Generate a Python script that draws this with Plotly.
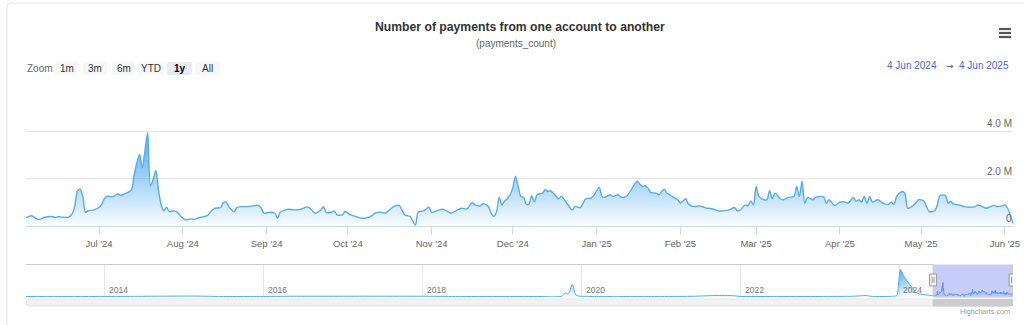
import plotly.graph_objects as go

W, H = 1024, 325

# ---------------- data ----------------
main_dates = [
    "2024-06-04", "2024-06-06", "2024-06-08", "2024-06-09", "2024-06-11", "2024-06-13", "2024-06-14",
    "2024-06-15", "2024-06-16", "2024-06-19", "2024-06-20", "2024-06-21", "2024-06-22", "2024-06-23",
    "2024-06-24", "2024-06-25", "2024-06-26", "2024-06-27", "2024-06-29", "2024-07-01", "2024-07-02",
    "2024-07-03", "2024-07-04", "2024-07-06", "2024-07-08", "2024-07-09", "2024-07-11", "2024-07-13",
    "2024-07-14", "2024-07-16", "2024-07-17", "2024-07-18", "2024-07-19", "2024-07-20", "2024-07-21",
    "2024-07-22", "2024-07-23", "2024-07-24", "2024-07-25", "2024-07-26", "2024-07-27", "2024-07-29",
    "2024-07-30", "2024-07-31", "2024-08-02", "2024-08-04", "2024-08-05", "2024-08-07", "2024-08-10",
    "2024-08-12", "2024-08-13", "2024-08-15", "2024-08-16", "2024-08-17", "2024-08-18", "2024-08-20",
    "2024-08-21", "2024-08-23", "2024-08-25", "2024-08-27", "2024-08-29", "2024-08-30", "2024-08-31",
    "2024-09-02", "2024-09-04", "2024-09-05", "2024-09-06", "2024-09-08", "2024-09-09", "2024-09-11",
    "2024-09-14", "2024-09-16", "2024-09-17", "2024-09-19", "2024-09-21", "2024-09-22", "2024-09-23",
    "2024-09-25", "2024-09-26", "2024-09-27", "2024-09-29", "2024-09-30", "2024-10-02", "2024-10-04",
    "2024-10-06", "2024-10-08", "2024-10-10", "2024-10-11", "2024-10-13", "2024-10-15", "2024-10-16",
    "2024-10-18", "2024-10-20", "2024-10-21", "2024-10-22", "2024-10-24", "2024-10-26", "2024-10-27",
    "2024-10-29", "2024-10-31", "2024-11-01", "2024-11-03", "2024-11-05", "2024-11-07", "2024-11-08",
    "2024-11-10", "2024-11-12", "2024-11-14", "2024-11-16", "2024-11-17", "2024-11-19", "2024-11-20",
    "2024-11-22", "2024-11-23", "2024-11-24", "2024-11-25", "2024-11-26", "2024-11-27", "2024-11-28",
    "2024-11-29", "2024-11-30", "2024-12-01", "2024-12-02", "2024-12-03", "2024-12-04", "2024-12-05",
    "2024-12-06", "2024-12-07", "2024-12-08", "2024-12-09", "2024-12-10", "2024-12-12", "2024-12-13",
    "2024-12-14", "2024-12-15", "2024-12-16", "2024-12-18", "2024-12-19", "2024-12-21", "2024-12-23",
    "2024-12-24", "2024-12-26", "2024-12-27", "2024-12-28", "2024-12-30", "2024-12-31", "2025-01-02",
    "2025-01-03", "2025-01-04", "2025-01-06", "2025-01-07", "2025-01-09", "2025-01-10", "2025-01-12",
    "2025-01-14", "2025-01-16", "2025-01-17", "2025-01-18", "2025-01-19", "2025-01-20", "2025-01-21",
    "2025-01-23", "2025-01-24", "2025-01-26", "2025-01-27", "2025-01-29", "2025-01-31", "2025-02-01",
    "2025-02-03", "2025-02-04", "2025-02-06", "2025-02-08", "2025-02-10", "2025-02-11", "2025-02-13",
    "2025-02-15", "2025-02-17", "2025-02-19", "2025-02-21", "2025-02-22", "2025-02-23", "2025-02-25",
    "2025-02-26", "2025-02-27", "2025-02-28", "2025-03-01", "2025-03-02", "2025-03-04", "2025-03-05",
    "2025-03-06", "2025-03-07", "2025-03-08", "2025-03-10", "2025-03-11", "2025-03-13", "2025-03-15",
    "2025-03-16", "2025-03-17", "2025-03-18", "2025-03-19", "2025-03-20", "2025-03-22", "2025-03-23",
    "2025-03-25", "2025-03-26", "2025-03-27", "2025-03-28", "2025-03-30", "2025-04-01", "2025-04-03",
    "2025-04-04", "2025-04-06", "2025-04-07", "2025-04-08", "2025-04-09", "2025-04-10", "2025-04-11",
    "2025-04-12", "2025-04-13", "2025-04-15", "2025-04-17", "2025-04-19", "2025-04-20", "2025-04-21",
    "2025-04-22", "2025-04-24", "2025-04-25", "2025-04-26", "2025-04-27", "2025-04-29", "2025-04-30",
    "2025-05-02", "2025-05-03", "2025-05-04", "2025-05-06", "2025-05-07", "2025-05-08", "2025-05-10",
    "2025-05-11", "2025-05-12", "2025-05-13", "2025-05-15", "2025-05-17", "2025-05-19", "2025-05-21",
    "2025-05-22", "2025-05-23", "2025-05-25", "2025-05-26", "2025-05-28", "2025-05-29", "2025-05-31",
    "2025-06-01", "2025-06-02", "2025-06-03", "2025-06-04",
]
# payments_count, in millions
main_values = [
    0.35, 0.43, 0.30, 0.28, 0.37, 0.40, 0.39,
    0.36, 0.39, 0.36, 0.39, 0.50, 0.82, 1.46,
    1.56, 1.25, 0.58, 0.64, 0.68, 0.78, 0.92,
    1.15, 1.26, 1.23, 1.36, 1.29, 1.39, 1.53,
    2.17, 3.02, 2.45, 3.20, 3.94, 1.70, 1.96,
    2.35, 1.50, 0.89, 0.64, 0.79, 0.61, 0.64,
    0.58, 0.44, 0.26, 0.30, 0.28, 0.35, 0.44,
    0.68, 0.75, 0.78, 0.99, 1.01, 0.82, 0.61,
    0.78, 0.82, 0.82, 0.85, 0.87, 0.75, 0.54,
    0.58, 0.54, 0.33, 0.58, 0.68, 0.71, 0.68,
    0.72, 0.81, 0.75, 0.54, 0.68, 0.82, 0.58,
    0.58, 0.64, 0.47, 0.47, 0.61, 0.47, 0.40,
    0.33, 0.35, 0.44, 0.54, 0.58, 0.55, 0.64,
    0.82, 0.87, 0.68, 0.47, 0.40, 0.04, 0.58,
    0.64, 0.79, 0.58, 0.64, 0.71, 0.61, 0.54,
    0.64, 0.75, 0.72, 0.99, 0.89, 0.85, 0.94,
    0.82, 0.54, 0.40, 0.61, 1.21, 0.89, 1.06,
    1.15, 1.32, 1.60, 2.10, 1.67, 1.25, 1.21,
    0.92, 0.92, 1.28, 1.01, 1.32, 1.39, 1.53,
    1.46, 1.49, 1.39, 1.15, 1.25, 0.96, 0.68,
    0.82, 0.78, 0.96, 1.15, 1.18, 1.29, 1.63,
    1.25, 1.21, 1.32, 1.25, 1.32, 1.22, 1.25,
    1.57, 1.89, 1.77, 1.67, 1.70, 1.60, 1.42,
    1.39, 1.32, 1.56, 1.39, 1.25, 1.11, 0.96,
    1.15, 0.92, 0.82, 0.85, 0.78, 0.75, 0.72,
    0.64, 0.64, 0.68, 0.78, 0.64, 0.66, 0.89,
    0.85, 1.06, 0.89, 1.67, 1.25, 1.11, 1.11,
    1.49, 1.15, 1.39, 1.15, 1.11, 1.21, 1.25,
    1.67, 1.25, 1.89, 0.96, 1.21, 1.11, 1.21,
    1.25, 1.22, 0.96, 1.11, 0.87, 1.01, 1.01,
    0.96, 1.21, 1.04, 1.11, 1.01, 1.25, 0.96,
    1.25, 1.01, 1.11, 0.96, 0.92, 1.01, 0.92,
    1.25, 1.46, 1.39, 0.75, 0.78, 0.96, 1.11,
    1.06, 0.82, 0.61, 0.64, 0.89, 1.29, 1.29,
    0.96, 1.04, 0.92, 0.89, 0.82, 0.79, 0.82,
    0.89, 0.85, 0.75, 0.78, 0.87, 0.82, 0.85,
    0.89, 0.75, 0.47, 0.11,
]

# earlier history, only visible in the navigator (millions)
hist_dates = [
    "2013-01-04", "2013-06-01", "2014-01-01", "2014-06-01", "2014-12-01", "2015-03-01", "2015-06-01",
    "2016-01-01", "2016-06-01", "2017-01-01", "2017-06-01", "2018-01-01", "2018-06-01", "2019-01-01",
    "2019-06-01", "2019-10-01", "2019-10-20", "2019-11-01", "2019-11-20", "2019-12-05", "2019-12-20",
    "2020-03-01", "2020-06-01", "2021-01-01", "2021-06-01", "2021-09-01", "2021-12-01", "2022-01-01",
    "2022-06-01", "2023-01-01", "2023-06-01", "2023-08-01", "2023-09-01", "2023-12-01", "2023-12-20",
    "2024-01-05", "2024-01-20", "2024-02-05", "2024-02-20", "2024-03-01", "2024-03-10", "2024-03-25",
    "2024-04-15", "2024-05-15",
]
hist_values = [
    0.15, 0.15, 0.15, 0.18, 0.25, 0.25, 0.15,
    0.15, 0.20, 0.20, 0.22, 0.20, 0.15, 0.15,
    0.15, 0.20, 1.10, 0.80, 3.40, 0.60, 0.25,
    0.15, 0.15, 0.15, 0.20, 0.40, 0.35, 0.15,
    0.15, 0.15, 0.20, 0.40, 0.15, 0.20, 0.40,
    7.50, 5.80, 4.40, 3.20, 2.50, 1.50, 1.00,
    0.70, 0.50,
]

title_text = "Number of payments from one account to another"
subtitle_text = "(payments_count)"
button_labels = ["1m", "3m", "6m", "YTD", "1y", "All"]
active_button = "1y"
range_start, range_end = "2024-06-04", "2025-06-04"
range_text_from, range_text_to = "4 Jun 2024", "4 Jun 2025"
month_ticks = ["2024-07-01", "2024-08-01", "2024-09-01", "2024-10-01", "2024-11-01", "2024-12-01",
               "2025-01-01", "2025-02-01", "2025-03-01", "2025-04-01", "2025-05-01", "2025-06-01"]
month_labels = ["Jul '24", "Aug '24", "Sep '24", "Oct '24", "Nov '24", "Dec '24",
                "Jan '25", "Feb '25", "Mar '25", "Apr '25", "May '25", "Jun '25"]
y_tickvals = [0, 2, 4, 6]
y_ticktext = ["0", "2.0 M", "4.0 M", ""]
year_ticks = ["2014-01-01", "2016-01-01", "2018-01-01", "2020-01-01", "2022-01-01", "2024-01-01"]
year_labels = ["2014", "2016", "2018", "2020", "2022", "2024"]
nav_start, nav_end = "2013-01-04", "2025-06-06"

# ---------------- helpers (pixel -> paper) ----------------
def fx(p):
    return p / W

def fy(p):
    return 1 - p / H

def rrect(x0, y0, x1, y1, r):
    X, Y = fx, fy
    return (f"M{X(x0 + r)},{Y(y0)} L{X(x1 - r)},{Y(y0)} Q{X(x1)},{Y(y0)} {X(x1)},{Y(y0 + r)} "
            f"L{X(x1)},{Y(y1 - r)} Q{X(x1)},{Y(y1)} {X(x1 - r)},{Y(y1)} L{X(x0 + r)},{Y(y1)} "
            f"Q{X(x0)},{Y(y1)} {X(x0)},{Y(y1 - r)} L{X(x0)},{Y(y0 + r)} Q{X(x0)},{Y(y0)} {X(x0 + r)},{Y(y0)} Z")

FONT = "Liberation Sans, Arial, Helvetica, sans-serif"
PL, PR = 26, 1013          # plot left/right px
MT, MB = 84, 226           # main plot top/bottom px
NT, NB = 264.5, 297        # navigator top/bottom px
BLUE = "66,165,245"

fig = go.Figure()

fig.add_trace(go.Scatter(
    x=main_dates, y=main_values, mode="lines",
    line=dict(color="#55adf1", width=1.4, shape="spline", smoothing=0.8),
    fill="tozeroy",
    fillgradient=dict(type="vertical",
                      colorscale=[[0, f"rgba({BLUE},0.03)"], [1, f"rgba({BLUE},0.95)"]],
                      start=0, stop=max(main_values)),
    hoverinfo="skip", xaxis="x", yaxis="y", showlegend=False,
))

nav_dates = hist_dates + main_dates
nav_values = hist_values + main_values
fig.add_trace(go.Scatter(
    x=nav_dates, y=nav_values, mode="lines",
    line=dict(color="#55adf1", width=1, shape="spline", smoothing=0.6),
    fill="tozeroy",
    fillgradient=dict(type="vertical",
                      colorscale=[[0, f"rgba({BLUE},0.05)"], [1, f"rgba({BLUE},0.9)"]],
                      start=0, stop=max(nav_values)),
    hoverinfo="skip", xaxis="x2", yaxis="y2", showlegend=False,
))

shapes = []
annotations = []

# container border
shapes.append(dict(type="path", xref="paper", yref="paper", path=rrect(7, 3, 1040, 345, 4),
                   line=dict(color="#e6e6e6", width=1), fillcolor="rgba(0,0,0,0)", layer="below"))

# title / subtitle
annotations.append(dict(xref="paper", yref="paper", x=fx(520), y=fy(27), text=f"<b>{title_text}</b>",
                        showarrow=False, xanchor="center", yanchor="middle",
                        font=dict(family=FONT, size=12.2, color="#333333")))
annotations.append(dict(xref="paper", yref="paper", x=fx(516), y=fy(43), text=subtitle_text,
                        showarrow=False, xanchor="center", yanchor="middle",
                        font=dict(family=FONT, size=10, color="#666666")))

# hamburger menu
for yy in (29, 33, 37):
    shapes.append(dict(type="line", xref="paper", yref="paper", x0=fx(999), x1=fx(1011),
                       y0=fy(yy), y1=fy(yy), line=dict(color="#555555", width=2.2)))

# range selector
annotations.append(dict(xref="paper", yref="paper", x=fx(25), y=fy(68), text="Zoom", showarrow=False,
                        xanchor="left", yanchor="middle", font=dict(family=FONT, size=10, color="#666666")))
btn_px = [(55, 78), (83, 107), (112, 135), (138, 163), (167, 192), (195, 220)]
for lab, (bx0, bx1) in zip(button_labels, btn_px):
    act = lab == active_button
    shapes.append(dict(type="path", xref="paper", yref="paper", path=rrect(bx0, 62, bx1, 75, 2),
                       fillcolor="#e6ebf5" if act else "#f7f7f7", line=dict(width=0)))
    annotations.append(dict(xref="paper", yref="paper", x=fx((bx0 + bx1) / 2), y=fy(68.5),
                            text=f"<b>{lab}</b>" if act else lab, showarrow=False,
                            xanchor="center", yanchor="middle",
                            font=dict(family=FONT, size=10, color="#000000" if act else "#333333")))

# date range display
annotations.append(dict(xref="paper", yref="paper", x=fx(939), y=fy(66), text=range_text_from,
                        showarrow=False, xanchor="right", yanchor="middle",
                        font=dict(family=FONT, size=10, color="#4a66d9")))
annotations.append(dict(xref="paper", yref="paper", x=fx(949.5), y=fy(65.5), text="→",
                        showarrow=False, xanchor="center", yanchor="middle",
                        font=dict(family="DejaVu Sans", size=9, color="#555555")))
annotations.append(dict(xref="paper", yref="paper", x=fx(1011), y=fy(66), text=range_text_to,
                        showarrow=False, xanchor="right", yanchor="middle",
                        font=dict(family=FONT, size=10, color="#4a66d9")))

# y-axis labels, placed on the y scale, inside the plot at the right edge
for v, t in zip(y_tickvals, y_ticktext):
    if t:
        annotations.append(dict(xref="paper", yref="y", x=fx(PR + 1), y=v, text=t, showarrow=False,
                                xanchor="right", yanchor="bottom", yshift=0,
                                font=dict(family=FONT, size=10, color="#666666")))

# navigator: selection mask and outline
shapes.append(dict(type="rect", xref="x2", yref="paper", x0=range_start, x1=range_end,
                   y0=fy(NB), y1=fy(NT), fillcolor="rgba(70,90,235,0.3)", line=dict(width=0), layer="above"))
outline = dict(color="#cccccc", width=1)
shapes.append(dict(type="line", xref="x2", yref="paper", x0=nav_start, x1=range_start,
                   y0=fy(NT), y1=fy(NT), line=outline))
shapes.append(dict(type="line", xref="x2", yref="paper", x0=range_start, x1=range_start,
                   y0=fy(NT), y1=fy(NB), line=outline))
shapes.append(dict(type="line", xref="x2", yref="paper", x0=range_start, x1=range_end,
                   y0=fy(NB), y1=fy(NB), line=outline))
shapes.append(dict(type="line", xref="x2", yref="paper", x0=range_end, x1=range_end,
                   y0=fy(NT), y1=fy(NB), line=outline))
# handles
for hx in (range_start, range_end):
    shapes.append(dict(type="rect", xref="x2", yref="paper", xsizemode="pixel", xanchor=hx,
                       x0=-3.5, x1=3.5, y0=fy(286), y1=fy(274),
                       fillcolor="#f2f2f2", line=dict(color="#999999", width=1)))
    for dx in (-1, 1):
        shapes.append(dict(type="line", xref="x2", yref="paper", xsizemode="pixel", xanchor=hx,
                           x0=dx, x1=dx, y0=fy(283), y1=fy(277), line=dict(color="#999999", width=1)))
# year labels in navigator
for xt, lab in zip(year_ticks, year_labels):
    annotations.append(dict(xref="x2", yref="paper", x=xt, y=fy(290), text=lab, showarrow=False,
                            xanchor="left", yanchor="middle", xshift=2,
                            font=dict(family=FONT, size=8.5, color="#777777")))

# scrollbar
shapes.append(dict(type="path", xref="paper", yref="paper", path=rrect(PL, 299, PR, 306, 3.5),
                   fillcolor="#f2f2f2", line=dict(color="#e6e6e6", width=1), layer="below"))
shapes.append(dict(type="rect", xref="x2", yref="paper", x0=range_start, x1=range_end,
                   y0=fy(306), y1=fy(299.5), fillcolor="#cccccc", line=dict(color="#cccccc", width=1)))

# credits
annotations.append(dict(xref="paper", yref="paper", x=fx(1012), y=fy(311), text="Highcharts.com",
                        showarrow=False, xanchor="right", yanchor="middle",
                        font=dict(family=FONT, size=7.2, color="#999999")))

fig.update_layout(
    width=W, height=H, autosize=False,
    margin=dict(l=0, r=0, t=0, b=0, pad=0),
    paper_bgcolor="white", plot_bgcolor="rgba(0,0,0,0)",
    font=dict(family=FONT, color="#666666"),
    showlegend=False,
    xaxis=dict(domain=[fx(PL), fx(PR)], range=[range_start, range_end], type="date",
               anchor="y", showgrid=False, zeroline=False,
               showline=True, linecolor="#ccd6eb", linewidth=1,
               ticks="outside", ticklen=7, tickcolor="#ccd6eb", tickwidth=1,
               tickvals=month_ticks, ticktext=month_labels, ticklabelstandoff=2,
               ticklabeloverflow="allow",
               tickfont=dict(family=FONT, size=9.5, color="#666666"), automargin=False),
    yaxis=dict(domain=[fy(MB), fy(MT)], range=[0, 6], anchor="x", side="right",
               tickvals=y_tickvals, showticklabels=False,
               showgrid=True, gridcolor="#e6e6e6", gridwidth=1, zeroline=False, showline=False,
               automargin=False),
    xaxis2=dict(domain=[fx(PL), fx(PR)], range=[nav_start, nav_end], type="date", anchor="y2",
                tickvals=year_ticks, showticklabels=False, showgrid=True, gridcolor="#e6e6e6",
                zeroline=False, showline=False, ticks="", automargin=False),
    yaxis2=dict(domain=[fy(NB), fy(NT)], range=[0, 8.8], anchor="x2", showticklabels=False,
                showgrid=False, zeroline=False, showline=False, automargin=False),
    shapes=shapes, annotations=annotations,
)

fig.write_html("out.html")
